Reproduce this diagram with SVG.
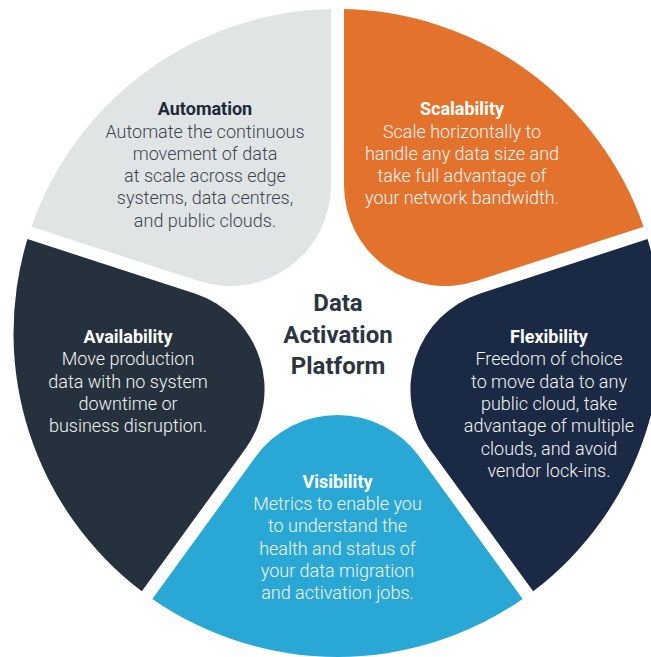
<svg xmlns="http://www.w3.org/2000/svg" xmlns:xlink="http://www.w3.org/1999/xlink" width="651" height="657" viewBox="0 0 651 657">
  <style>
    .title { font-family: Roboto, "Liberation Sans", sans-serif; font-weight: 700; font-size: 18px; text-anchor: middle; }
    .body { font-family: Roboto, "Liberation Sans", sans-serif; font-weight: 300; font-size: 18px; text-anchor: middle; }
    .hub { font-family: Roboto, "Liberation Sans", sans-serif; font-weight: 700; font-size: 24px; text-anchor: middle; fill: #2B3641; }
    .light .title { fill: #FFFFFF; }
    .light .body { fill: #F4F4F4; }
    .pale .title { fill: #1D2939; }
    .pale .body { fill: #3B4552; }
  </style>
  <defs>
    <!-- one petal: a 72-degree slice with a rounded inner tip, axis along +x, hub at origin -->
    <path id="petal" d="M123.53,-81.72 L265.88,-185.15 A324,324 0 0 1 265.88,185.15 L123.53,81.72 A101,101 0 0 1 123.53,-81.72 Z"/>
  </defs>

  <g id="automation" class="pale">
    <use xlink:href="#petal" transform="translate(337.5,333) rotate(234)" fill="#E1E4E5"/>
    <text class="title" x="205" y="115">Automation</text>
    <text class="body" x="205" y="137.5">Automate the continuous</text>
    <text class="body" x="205" y="159.8">movement of data</text>
    <text class="body" x="205" y="182.1">at scale across edge</text>
    <text class="body" x="205" y="204.4">systems, data centres,</text>
    <text class="body" x="205" y="226.7">and public clouds.</text>
  </g>

  <g id="scalability" class="light">
    <use xlink:href="#petal" transform="translate(337.5,333) rotate(-54)" fill="#E3722D"/>
    <text class="title" x="462" y="115">Scalability</text>
    <text class="body" x="462" y="137.5">Scale horizontally to</text>
    <text class="body" x="462" y="159.8">handle any data size and</text>
    <text class="body" x="462" y="182.1">take full advantage of</text>
    <text class="body" x="462" y="204.4">your network bandwidth.</text>
  </g>

  <g id="flexibility" class="light">
    <use xlink:href="#petal" transform="translate(337.5,333) rotate(18)" fill="#1A2944"/>
    <text class="title" x="549" y="343">Flexibility</text>
    <text class="body" x="549" y="365.3">Freedom of choice</text>
    <text class="body" x="549" y="387.6">to move data to any</text>
    <text class="body" x="549" y="409.9">public cloud, take</text>
    <text class="body" x="549" y="432.2">advantage of multiple</text>
    <text class="body" x="549" y="454.5">clouds, and avoid</text>
    <text class="body" x="549" y="476.8">vendor lock-ins.</text>
  </g>

  <g id="visibility" class="light">
    <use xlink:href="#petal" transform="translate(337.5,333) rotate(90)" fill="#29A8D5"/>
    <text class="title" x="337.5" y="487.7">Visibility</text>
    <text class="body" x="337.5" y="510">Metrics to enable you</text>
    <text class="body" x="337.5" y="532.3">to understand the</text>
    <text class="body" x="337.5" y="554.6">health and status of</text>
    <text class="body" x="337.5" y="576.9">your data migration</text>
    <text class="body" x="337.5" y="599.2">and activation jobs.</text>
  </g>

  <g id="availability" class="light">
    <use xlink:href="#petal" transform="translate(337.5,333) rotate(162)" fill="#25323D"/>
    <text class="title" x="128" y="343">Availability</text>
    <text class="body" x="128" y="365.3">Move production</text>
    <text class="body" x="128" y="387.6">data with no system</text>
    <text class="body" x="128" y="409.9">downtime or</text>
    <text class="body" x="128" y="432.2">business disruption.</text>
  </g>

  <g id="hub">
    <text class="hub" x="338" y="311">Data</text>
    <text class="hub" x="338" y="342.7">Activation</text>
    <text class="hub" x="338" y="374.4">Platform</text>
  </g>

  <!-- the petals touch nothing but the hub; no connector lines are drawn -->
  <g id="connectors"/>
</svg>
